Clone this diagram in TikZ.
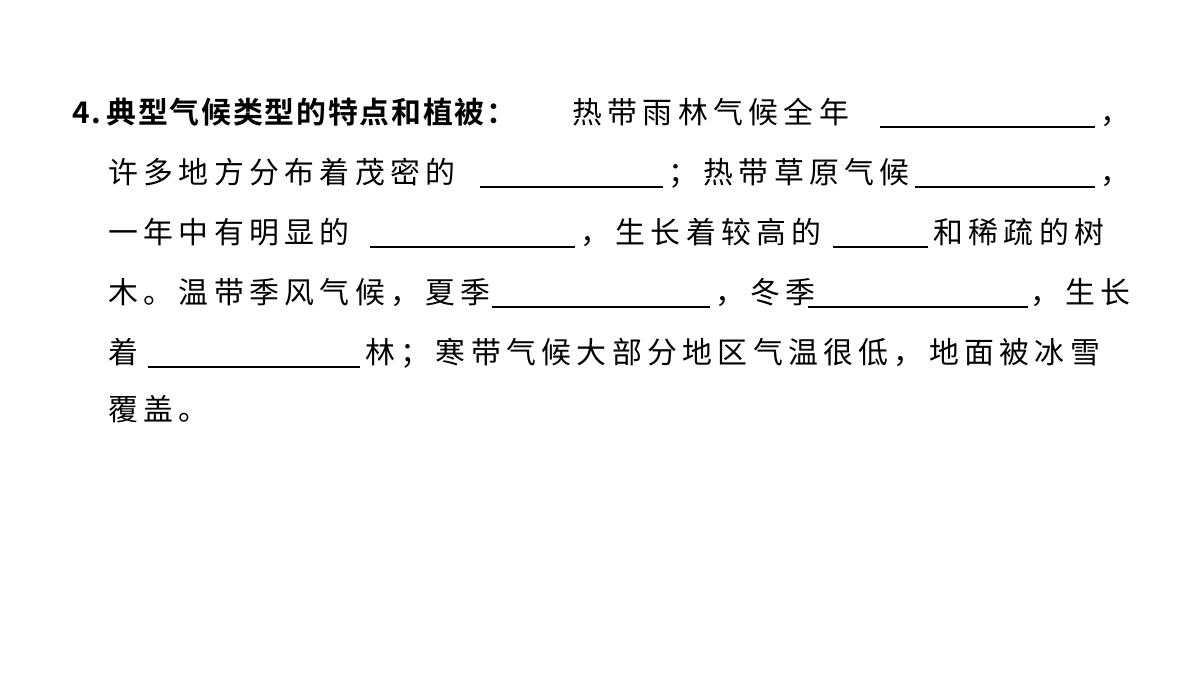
\documentclass[tikz,border=0pt]{standalone}
\usepackage{fontspec}
\newfontfamily\cjk[LetterSpace=18]{Noto Sans CJK SC}
\newfontfamily\cjkb[LetterSpace=6]{Noto Sans CJK SC Bold}
\begin{document}
\begin{tikzpicture}[x=0.02cm,y=-0.02cm,
  t/.style={anchor=base west,inner sep=0pt,font=\cjk\fontsize{17}{20}\selectfont},
  tb/.style={t,font=\cjkb\fontsize{17}{20}\selectfont},
  blank/.style={line width=0.6pt}]
\useasboundingbox (0,0) rectangle (1200,675);
% line 1
\node[tb] (n1) at (72,124) {4.\,典型气候类型的特点和植被：};
\node[t] (a1) at (572,124) {热带雨林气候全年};
\draw[blank] (880,127) -- (1095,127);
\node[t] (c1) at (1100,124) {，};
% line 2
\node[t] (a2) at (108,184) {许多地方分布着茂密的};
\draw[blank] (480,187) -- (663,187);
\node[t] (b2) at (668,184) {；热带草原气候};
\draw[blank] (915,187) -- (1095,187);
\node[t] (c2) at (1100,184) {，};
% line 3
\node[t] (a3) at (108,244) {一年中有明显的};
\draw[blank] (370,247) -- (575,247);
\node[t] (b3) at (580,244) {，生长着较高的};
\draw[blank] (833,247) -- (928,247);
\node[t] (c3) at (933,244) {和稀疏的树};
% line 4
\node[t] (a4) at (108,304) {木。温带季风气候，夏季};
\draw[blank] (492,307) -- (710,307);
\node[t] (b4) at (715,304) {，冬季};
\draw[blank] (808,307) -- (1028,307);
\node[t] (c4) at (1030,304) {，生长};
% line 5
\node[t] (a5) at (108,364) {着};
\draw[blank] (148,367) -- (360,367);
\node[t] (b5) at (365,364) {林；寒带气候大部分地区气温很低，地面被冰雪};
% line 6
\node[t] (a6) at (108,420) {覆盖。};
\end{tikzpicture}
\end{document}
